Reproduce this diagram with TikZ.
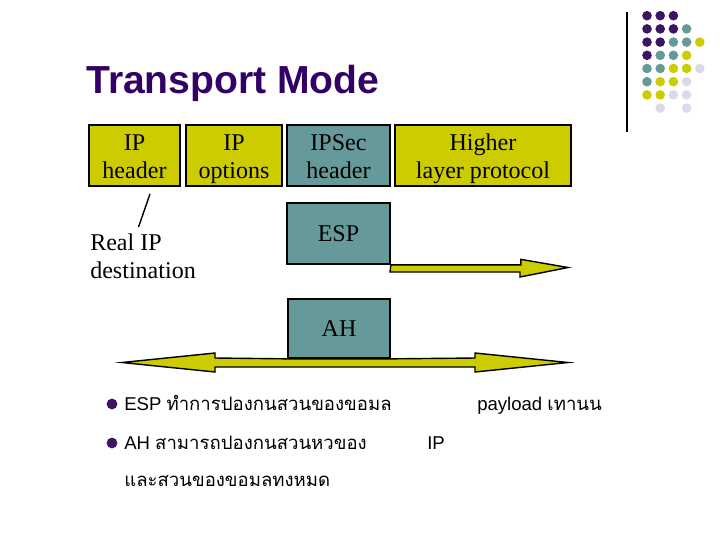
\documentclass[tikz,border=0pt]{standalone}
\usepackage{fontspec}
\setmainfont{Liberation Serif}
\setsansfont{Liberation Sans}
\newfontfamily\thaifont[Script=Thai]{Loma}
\usetikzlibrary{positioning, calc}

\definecolor{titlepurple}{RGB}{51,0,102}
\definecolor{dotP}{RGB}{60,20,100}
\definecolor{dotT}{RGB}{102,153,153}
\definecolor{dotY}{RGB}{204,204,0}
\definecolor{dotL}{RGB}{218,218,234}
\definecolor{fieldY}{RGB}{204,204,0}
\definecolor{fieldT}{RGB}{102,153,153}

\begin{document}
\begin{tikzpicture}[
    x=0.025cm, y=-0.025cm,
    field/.style={draw, line width=1.2pt, inner sep=0pt, align=center,
                  minimum height=1.525cm,
                  font=\fontsize{17.1}{19.9}\selectfont},
    twoline/.style={text height=1.15cm, text depth=-0.05cm},
    bul/.style={anchor=base west, inner sep=0pt,
                font=\sffamily\fontsize{13.2}{16}\selectfont},
    dot/.style={circle, inner sep=0pt, minimum size=0.24cm}
  ]
  \useasboundingbox (0,0) rectangle (720,540);

  % logo in the corner
  \draw[line width=0.8pt] (627,12) -- (627,132);
  \foreach \r/\c/\k in {0/0/P, 0/1/P, 0/2/P,
                        1/0/P, 1/1/P, 1/2/P, 1/3/T,
                        2/0/P, 2/1/P, 2/2/T, 2/3/T, 2/4/Y,
                        3/0/P, 3/1/T, 3/2/T, 3/3/Y,
                        4/0/T, 4/1/T, 4/2/Y, 4/3/Y, 4/4/L,
                        5/0/T, 5/1/Y, 5/2/Y, 5/3/L,
                        6/0/Y, 6/1/Y, 6/2/L, 6/3/L,
                        7/1/L, 7/3/L} {
    \node[dot, fill=dot\k] (d\r\c) at (647+13.2*\c, 15.7+13.2*\r) {};
  }

  % title
  \node[anchor=base west, inner sep=0pt, text=titlepurple,
        font=\sffamily\bfseries\fontsize{27.8}{32}\selectfont]
        (title) at (86,93) {Transport Mode};

  % packet fields
  \node[field, twoline, fill=fieldY, minimum width=2.275cm] (iphdr)  at (134.5,155.5) {IP\\header};
  \node[field, twoline, fill=fieldY, minimum width=2.4cm]   (ipopt)  at (234,155.5)   {IP\\options};
  \node[field, twoline, fill=fieldT, minimum width=2.575cm] (ipsec)  at (338.5,155.5) {IPSec\\header};
  \node[field, twoline, fill=fieldY, minimum width=4.4cm]   (higher) at (483,155.5)   {Higher\\layer protocol};

  \node[field, fill=fieldT, minimum width=2.575cm] (esp) at (338.5,233.5) {ESP};
  \node[field, fill=fieldT, minimum width=2.55cm, minimum height=1.475cm]
        (ah) at (339,328.5) {AH};

  % real destination
  \node[anchor=north west, inner sep=0pt, align=left,
        font=\fontsize{17.1}{19.9}\selectfont] (dest) at (90,234) {Real IP\\destination};
  \draw[line width=1pt] ($(dest.north)+(-4.5,-7)$) -- ($(iphdr.south)+(15.5,7)$);

  % coverage arrows
  \draw[line width=1pt, fill=fieldY, line join=miter]
    (esp.south east) -- ++(130,0) -- ++(0,-5.5) -- (568,267.5) -- (520,277)
    -- (520,272) -- (390,272) -- cycle;
  \draw[line width=1pt, fill=fieldY, line join=miter]
    (122,362.5) -- (215,353) -- (215,358) -- (ah.south west) -- (ah.south east)
    -- (475,358) -- (475,353) -- (568,362.5) -- (475,372) -- (475,367)
    -- (215,367) -- (215,372) -- cycle;

  % notes
  \node[dot, fill=dotP, minimum size=0.27cm] (b1) at (112,404) {};
  \node[dot, fill=dotP, minimum size=0.27cm] (b2) at (112,443) {};
  \node[bul] (n1) at (124,410) {ESP {\thaifont ทำการปองกนสวนของขอมล}};
  \node[bul] (n1b) at (477,410) {payload {\thaifont เทานน}};
  \node[bul] (n2) at (124,449) {AH {\thaifont สามารถปองกนสวนหวของ}};
  \node[bul] (n2b) at (427,449) {IP};
  \node[bul] (n3) at (124,486) {{\thaifont และสวนของขอมลทงหมด}};
\end{tikzpicture}
\end{document}
